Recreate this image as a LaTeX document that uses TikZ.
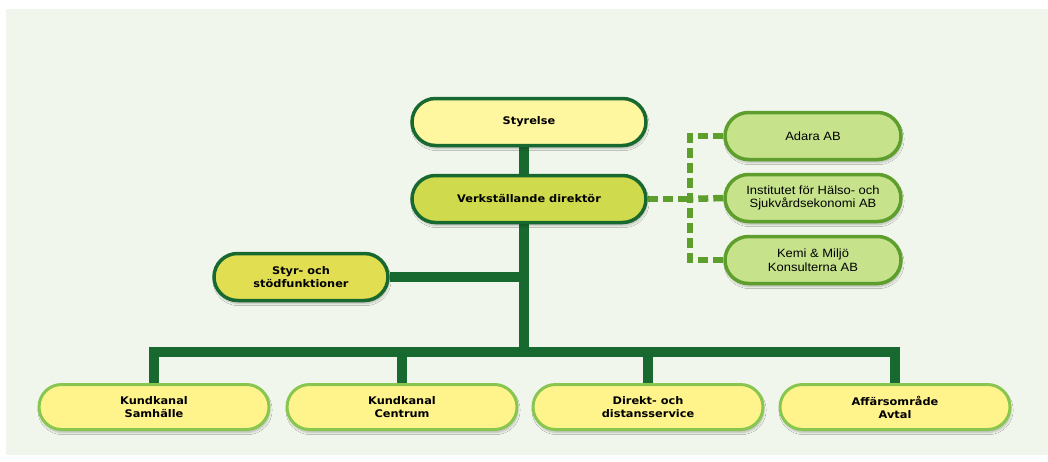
\documentclass[tikz,border=0pt]{standalone}
\usepackage{fontspec}
\setmainfont{Liberation Sans}
\newfontfamily\narrowfont{Liberation Sans}[FakeStretch=1.08]
\newfontfamily\boldfont{DejaVu Sans}[FakeStretch=1.08]
\usetikzlibrary{shapes.misc,shadows.blur,backgrounds}
\definecolor{bgc}{HTML}{F1F6EC}
\definecolor{dkgreen}{HTML}{17692F}
\definecolor{mdgreen}{HTML}{5E9E2C}
\definecolor{ltgreen}{HTML}{88C650}
\definecolor{yel}{HTML}{FFF6A0}
\definecolor{yelb}{HTML}{FFF48C}
\definecolor{vdfill}{HTML}{CFDB4C}
\definecolor{stfill}{HTML}{E2DE52}
\definecolor{subfill}{HTML}{C6E38C}
\tikzset{
  box/.style={rounded rectangle, minimum height=47pt, inner sep=2pt, align=center,
     font=\boldfont\fontsize{10.5}{13}\selectfont\bfseries,
     blur shadow={shadow blur steps=5, shadow xshift=1pt, shadow yshift=-3pt, shadow opacity=25}},
  topbox/.style={box, draw=dkgreen, line width=3.5pt, fill=yel, minimum width=238pt},
  vdbox/.style={box, draw=dkgreen, line width=3.5pt, fill=vdfill, minimum width=238pt},
  stbox/.style={box, draw=dkgreen, line width=3.5pt, fill=stfill, minimum width=178pt},
  subbox/.style={box, draw=mdgreen, line width=3.5pt, fill=subfill, minimum width=180pt,
     font=\narrowfont\fontsize{12}{13.5}\selectfont},
  botbox/.style={box, draw=ltgreen, line width=3pt, fill=yelb, minimum width=234pt, minimum height=45pt},
  mainline/.style={draw=dkgreen, line width=10pt},
  dashline/.style={draw=mdgreen, line width=6.5pt, dash pattern=on 10pt off 5pt}
}
\begin{document}
\begin{tikzpicture}[x=1pt,y=-1pt]
\useasboundingbox (0,0) rectangle (1048,461);
\coordinate (bus) at (524,352);
\coordinate (dj) at (690,199);
\node[topbox] (sty) at (529,122) {Styrelse};
\node[vdbox] (vd) at (529,199) {Verkställande direktör};
\node[stbox] (stod) at (301,277) {Styr- och\\stödfunktioner};
\node[subbox] (ad) at (813,136) {Adara AB};
\node[subbox] (inst) at (813,198) {Institutet för Hälso- och\\Sjukvårdsekonomi AB};
\node[subbox] (km) at (813,260) {Kemi \& Miljö\\Konsulterna AB};
\node[botbox] (b1) at (154,407) {Kundkanal\\Samhälle};
\node[botbox] (b2) at (402,407) {Kundkanal\\Centrum};
\node[botbox] (b3) at (648,407) {Direkt- och\\distansservice};
\node[botbox] (b4) at (895,407) {Affärsområde\\Avtal};
\begin{scope}[on background layer]
\fill[bgc] (6,9) rectangle (1048,455);
\path[mainline] (sty.south -| bus) -- (vd.north -| bus);
\path[mainline] (vd.south -| bus) -- (bus);
\path[mainline] (stod.east) -- (stod.east -| bus);
\path[mainline] (b1.north) |- (bus) -| (b4.north);
\path[mainline] (b2.north) -- (b2.north |- bus);
\path[mainline] (b3.north) -- (b3.north |- bus);
\path[dashline] (vd.east) -- (dj);
\path[dashline] (ad.west) -| (dj);
\path[dashline] (inst.west) -- (dj);
\path[dashline] (km.west) -| (dj);
\end{scope}
\end{tikzpicture}
\end{document}
